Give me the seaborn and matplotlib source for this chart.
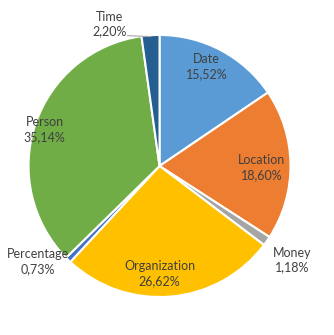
import numpy as np
import matplotlib
matplotlib.use("Agg")
import matplotlib.pyplot as plt
import seaborn as sns

# entity share (%)
categories = ["Date", "Location", "Money", "Organization", "Percentage", "Person", "Time"]
shares = [15.52, 18.60, 1.18, 26.62, 0.73, 35.14, 2.20]
share_labels = ["15,52%", "18,60%", "1,18%", "26,62%", "0,73%", "35,14%", "2,20%"]

colors = sns.color_palette(["#5B9BD5", "#ED7D31", "#A5A5A5", "#FFC000",
                            "#4472C4", "#70AD47", "#255E91"])

# label placement (radius as fraction of pie radius, angle nudge in degrees)
label_r = [0.84, 0.78, 1.24, 0.82, 1.18, 0.92, 1.15]
label_da = [2.5, -1.5, -0.5, -5.0, -7.5, 1.3, 15.5]

sns.set_theme(style="white")
plt.rcParams["font.family"] = ["Lato", "DejaVu Sans"]

fig = plt.figure(figsize=(3.34, 3.35), dpi=100)
ax = fig.add_axes([0, 0, 1, 1])

wedges, _ = ax.pie(
    shares,
    colors=colors,
    startangle=90,
    counterclock=False,
    radius=1.0,
    wedgeprops=dict(edgecolor="white", linewidth=1.5),
)

for w, name, lab, r, da in zip(wedges, categories, share_labels, label_r, label_da):
    ang = np.deg2rad((w.theta1 + w.theta2) / 2 + da)
    x, y = r * np.cos(ang), r * np.sin(ang)
    ax.text(x, y, f"{name}\n{lab}", ha="center", va="center",
            fontsize=9, color="#404040", linespacing=1.25)

# leader line for the small "Time" slice
t = wedges[-1]
ang = np.deg2rad((t.theta1 + t.theta2) / 2)
ax.plot([-0.245, np.cos(ang)], [0.995, np.sin(ang) - 0.01],
        color="#A6A6A6", lw=0.8)

ax.set_xlim(-1.218, 1.332)
ax.set_ylim(-1.290, 1.267)
ax.set_aspect("auto")
ax.axis("off")

fig.savefig("out.png", dpi=100, facecolor="white")
